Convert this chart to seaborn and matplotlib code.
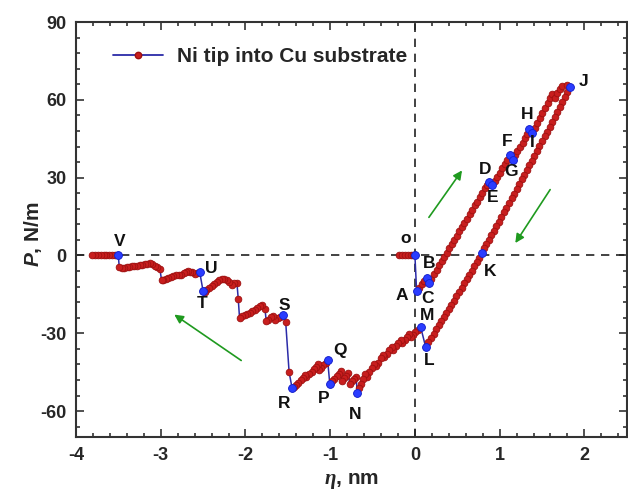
import numpy as np
import pandas as pd
import matplotlib
matplotlib.use("Agg")
import matplotlib.pyplot as plt
from matplotlib.lines import Line2D
from matplotlib.ticker import MultipleLocator
import seaborn as sns

# Path of the tip: displacement eta (nm) and force P (N/m), in time order
eta = [
    -0.19, -0.155, -0.12, -0.085, -0.05, -0.02, 0.0,
    0.02, 0.05, 0.08, 0.11, 0.145, 0.165,
    0.195, 0.225, 0.255, 0.285, 0.315, 0.345, 0.375, 0.405, 0.435, 0.465,
    0.495, 0.525, 0.555, 0.585, 0.615, 0.645, 0.675, 0.705, 0.735, 0.765,
    0.795, 0.825, 0.85, 0.87, 0.915,
    0.94, 0.97, 1.00, 1.03, 1.06, 1.09, 1.12, 1.155,
    1.18, 1.21, 1.24, 1.27, 1.30, 1.325, 1.35, 1.385,
    1.415, 1.445, 1.475, 1.505, 1.535, 1.565, 1.595, 1.62, 1.65, 1.68,
    1.71, 1.74, 1.79, 1.835,
    1.80, 1.77, 1.74, 1.71, 1.68, 1.65, 1.62, 1.59, 1.56, 1.53, 1.50, 1.47,
    1.44, 1.41, 1.38, 1.35, 1.32, 1.29, 1.26, 1.23, 1.20, 1.17, 1.14, 1.11,
    1.08, 1.05, 1.02, 0.99, 0.96, 0.93, 0.90, 0.87, 0.84, 0.815, 0.79,
    0.76, 0.73, 0.70, 0.67, 0.64, 0.61, 0.58, 0.55, 0.52, 0.49, 0.46, 0.43,
    0.40, 0.37, 0.34, 0.31, 0.28, 0.25, 0.22, 0.19, 0.16, 0.126, 0.067,
    0.035, 0.005, -0.025, -0.05, -0.065, -0.09, -0.12, -0.15, -0.17, -0.195,
    -0.225, -0.255, -0.275, -0.30, -0.33, -0.36, -0.38, -0.405, -0.435,
    -0.465, -0.485, -0.51, -0.54, -0.57, -0.59, -0.615, -0.64, -0.66, -0.68,
    -0.695, -0.72, -0.745, -0.77, -0.785, -0.81, -0.835, -0.86, -0.875,
    -0.90, -0.925, -0.95, -0.975, -1.005, -1.03,
    -1.055, -1.08, -1.105, -1.13, -1.145, -1.17, -1.195, -1.22, -1.25,
    -1.28, -1.30, -1.325, -1.35, -1.375, -1.40, -1.425, -1.45,
    -1.485, -1.525, -1.56,
    -1.59, -1.62, -1.65, -1.67, -1.70, -1.73, -1.755, -1.77, -1.80, -1.83,
    -1.86, -1.89, -1.92, -1.95, -1.98, -2.01, -2.04, -2.07, -2.085, -2.10,
    -2.13, -2.16, -2.19, -2.22, -2.25, -2.28, -2.31, -2.34, -2.37, -2.40,
    -2.43, -2.46, -2.48, -2.50, -2.54,
    -2.57, -2.60, -2.625, -2.65, -2.68, -2.70, -2.73, -2.76, -2.79, -2.82,
    -2.85, -2.88, -2.91, -2.94, -2.97, -2.99, -3.01,
    -3.04, -3.07, -3.10, -3.13, -3.16, -3.19, -3.22, -3.25, -3.28, -3.31,
    -3.34, -3.37, -3.40, -3.43, -3.46, -3.49, -3.50,
    -3.535, -3.57, -3.605, -3.64, -3.675, -3.71, -3.745, -3.78, -3.81,
]
force = [
    0, 0, 0, 0, 0, 0, 0,
    -13.7, -12.4, -11.1, -9.8, -8.5, -10.5,
    -8.9, -7.1, -5.6, -3.8, -2.3, -0.5, 1.0, 2.8, 4.3, 6.1,
    7.6, 9.4, 10.9, 12.7, 14.2, 16.0, 17.5, 19.3, 20.8, 22.6,
    24.1, 25.9, 27.0, 28.2, 27.1,
    28.7, 30.3, 31.9, 33.6, 35.2, 37.0, 38.7, 37.0,
    38.6, 40.2, 41.9, 43.5, 45.2, 46.9, 48.6, 47.3,
    49.2, 51.1, 53.1, 55.0, 56.9, 58.8, 60.8, 62.2, 60.8, 62.6,
    64.2, 65.4, 65.6, 65.0,
    62.9, 61.0, 59.1, 57.2, 55.3, 53.4, 51.6, 49.7, 47.8, 45.9, 44.0, 42.2,
    40.3, 38.5, 36.6, 34.8, 32.9, 31.1, 29.3, 27.4, 25.6, 23.8, 22.0, 20.2,
    18.4, 16.6, 14.8, 13.0, 11.3, 9.6, 7.9, 6.1, 4.4, 2.7, 0.9,
    -0.8, -2.5, -4.2, -5.9, -7.5, -9.2, -10.8, -12.5, -14.1, -15.7, -17.4, -19.0,
    -20.6, -22.2, -23.8, -25.4, -27.0, -28.5, -30.1, -31.7, -33.4, -35.2, -27.5,
    -28.7, -29.6, -30.6, -31.6, -30.4, -31.5, -32.6, -33.7, -32.6, -33.8,
    -35.0, -36.3, -35.2, -36.5, -37.9, -39.3, -38.2, -39.7, -41.3,
    -42.8, -41.8, -43.4, -45.1, -46.8, -45.9, -47.7, -49.6, -51.3, -52.9,
    -46.8, -47.6, -48.6, -49.7, -45.3, -46.3, -47.4, -48.5, -44.6,
    -45.6, -46.6, -47.6, -48.5, -49.4, -40.4,
    -41.3, -42.3, -43.3, -44.3, -42.0, -42.9, -43.9, -44.9, -45.9,
    -46.9, -46.0, -47.1, -48.2, -49.2, -50.1, -50.8, -51.1,
    -44.9, -25.7, -23.0,
    -23.6, -24.2, -24.9, -23.2, -23.9, -24.7, -25.2, -20.5, -19.2, -19.6,
    -20.4, -21.2, -21.6, -22.0, -22.5, -23.0, -23.5, -24.0, -16.8, -10.8,
    -10.8, -11.2, -10.2, -9.6, -9.0, -8.9, -9.6, -10.3, -11.1, -11.9,
    -12.7, -13.4, -13.9, -13.7, -6.4,
    -6.9, -7.2, -6.5, -6.3, -6.0, -6.3, -6.9, -7.4, -7.7, -7.6,
    -8.0, -8.4, -8.8, -8.9, -9.3, -9.5, -5.2,
    -4.6, -3.9, -3.4, -3.0, -3.4, -3.2, -3.5, -3.8, -4.0, -4.2,
    -4.0, -4.3, -4.6, -4.9, -5.0, -4.4, 0.0,
    0, 0, 0, 0, 0, 0, 0, 0, 0,
]

# Labelled events along the path
key_names = ["o", "A", "B", "C", "D", "E", "F", "G", "H", "I", "J", "K", "L",
             "M", "N", "P", "Q", "R", "S", "T", "U", "V"]
key_eta = [0.0, 0.02, 0.145, 0.165, 0.87, 0.915, 1.12, 1.155, 1.35, 1.385,
           1.835, 0.79, 0.126, 0.067, -0.68, -1.005, -1.03, -1.45, -1.56,
           -2.50, -2.54, -3.50]
key_force = [0.0, -13.7, -8.5, -10.5, 28.2, 27.1, 38.7, 37.0, 48.6, 47.3,
             65.0, 0.9, -35.2, -27.5, -52.9, -49.4, -40.4, -51.1, -23.0,
             -13.7, -6.4, 0.0]
# where each letter is written
lab_eta = [-0.11, -0.15, 0.165, 0.145, 0.83, 0.918, 1.09, 1.14, 1.32, 1.38,
           1.99, 0.89, 0.165, 0.145, -0.705, -1.08, -0.89, -1.54, -1.54,
           -2.51, -2.40, -3.48]
lab_force = [6.7, -15.6, -3.0, -16.5, 33.2, 22.2, 44.1, 32.5, 54.4, 43.5,
             67.0, -6.2, -40.4, -23.3, -61.5, -55.3, -36.5, -57.0, -19.1,
             -18.5, -4.9, 5.4]

df = pd.DataFrame({"eta": eta, "P": force})
keys = pd.DataFrame({"eta": key_eta, "P": key_force})

LINE_BLUE = "#2b2ba8"
DOT_RED = "#c81e1e"
KEY_BLUE = "#2a3cff"
ARROW_GREEN = "#1f9a1f"

sns.set_style("ticks")
plt.rcParams["font.family"] = ["Liberation Sans", "DejaVu Sans"]
plt.rcParams["font.weight"] = "bold"
plt.rcParams["axes.unicode_minus"] = False
plt.rcParams["mathtext.fontset"] = "custom"
plt.rcParams["mathtext.it"] = "Liberation Serif:italic"
plt.rcParams["mathtext.bfit"] = "Liberation Sans:italic:bold"

fig = plt.figure(figsize=(6.28, 4.91), dpi=100)
ax = fig.add_axes([0.121, 0.110, 0.877, 0.845])

# zero reference lines
ax.axhline(0, color="#222222", lw=1.2, ls=(0, (5, 4)), zorder=1)
ax.axvline(0, color="#222222", lw=1.2, ls=(0, (5, 4)), zorder=1)

sns.lineplot(data=df, x="eta", y="P", sort=False, estimator=None, ax=ax,
             color=LINE_BLUE, lw=1.1, marker="o", markersize=4.8,
             markerfacecolor=DOT_RED, markeredgecolor="#9e1010",
             markeredgewidth=0.6, zorder=3)
sns.scatterplot(data=keys, x="eta", y="P", ax=ax, color=KEY_BLUE, s=32,
                edgecolor="#1020d0", linewidth=0.6, zorder=4)

for name, x, y in zip(key_names, lab_eta, lab_force):
    ax.text(x, y, name, ha="center", va="center", fontsize=12.5,
            fontweight="bold", color="#111111", zorder=5)

# direction arrows
arrows = [((0.165, 14.7), (0.556, 32.8)),
          ((1.596, 25.4), (1.185, 4.8)),
          ((-2.05, -40.5), (-2.84, -22.8))]
for tail, head in arrows:
    ax.annotate("", xy=head, xytext=tail,
                arrowprops=dict(arrowstyle="-|>", color=ARROW_GREEN, lw=1.2,
                                mutation_scale=13, shrinkA=0, shrinkB=0))

ax.set_xlim(-4, 2.5)
ax.set_ylim(-70, 90)
ax.xaxis.set_major_locator(MultipleLocator(1))
ax.xaxis.set_minor_locator(MultipleLocator(0.2))
ax.yaxis.set_major_locator(MultipleLocator(30))
ax.yaxis.set_minor_locator(MultipleLocator(6))
ax.tick_params(which="both", direction="in", top=True, right=True,
               color="#333333", width=1.2, labelsize=13)
ax.tick_params(which="major", length=6, pad=7)
ax.tick_params(which="minor", length=3)
for lab in ax.get_xticklabels() + ax.get_yticklabels():
    lab.set_fontweight("bold")
for sp in ax.spines.values():
    sp.set_linewidth(1.5)
    sp.set_color("#333333")

ax.set_xlabel(r"$\eta$, nm", fontsize=15, fontweight="bold", labelpad=5)
ax.set_ylabel(r"$\mathbfit{P}$, N/m", fontsize=15, fontweight="bold")
ax.yaxis.set_label_coords(-0.058, 0.49)

handle = Line2D([0, 0.5, 1], [0, 0, 0], color=LINE_BLUE, lw=1.3, marker="o",
                markersize=4.6, markerfacecolor=DOT_RED,
                markeredgecolor="#9e1010", markevery=[1])
ax.legend([handle], ["Ni tip into Cu substrate"], loc="upper left",
          bbox_to_anchor=(0.034, 0.984), frameon=False, handlelength=2.4,
          handletextpad=0.65, prop=dict(size=15, weight="bold"))

fig.savefig("out.png", dpi=100)
